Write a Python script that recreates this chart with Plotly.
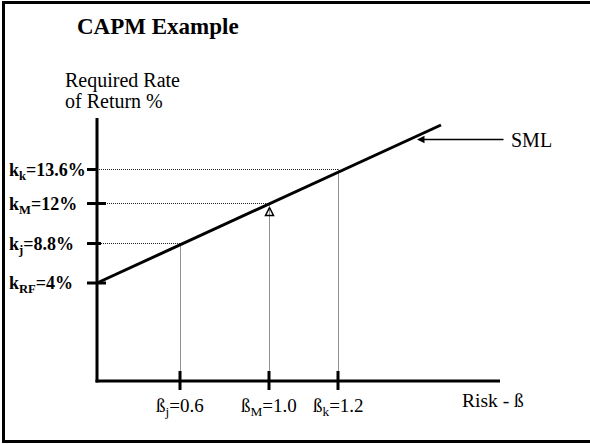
import numpy as np
import plotly.graph_objects as go

# ---------------- data ----------------
betas = [0.6, 1.0, 1.2]
beta_labels = ["ß<sub>j</sub>=0.6", "ß<sub>M</sub>=1.0", "ß<sub>k</sub>=1.2"]
required_returns = [8.8, 12.0, 13.6]
return_labels = ["k<sub>j</sub>=8.8%", "k<sub>M</sub>=12%", "k<sub>k</sub>=13.6%"]
risk_free_rate = 4.0
rf_label = "k<sub>RF</sub>=4%"
market_beta = 1.0
market_return = 12.0
sml_betas = [0.0, 1.5]
sml_returns = [4.0, 16.0]

# ------------- schematic (not-to-scale) display scale -------------
W, H = 590, 444
X_ANCHOR_VAL = [0.0, 0.6, 1.0, 1.2, 1.5]
X_ANCHOR_PX = [97, 180, 269, 338, 441]
Y_ANCHOR_VAL = [4.0, 8.8, 12.0, 13.6, 16.0]
Y_ANCHOR_PX = [283, 243.5, 203.5, 169.5, 125]
X_AXIS_Y = 381
Y_AXIS_X = 97
Y_AXIS_TOP = 118
X_AXIS_RIGHT = 500


def sx(v):
    return np.interp(v, X_ANCHOR_VAL, X_ANCHOR_PX)


def sy(v):
    return np.interp(v, Y_ANCHOR_VAL, Y_ANCHOR_PX)


FONT = "Liberation Serif, Times New Roman, serif"
BLACK = "#000000"
DOT = dict(color="#222222", width=1, dash="1px,1px")

fig = go.Figure()
shapes = []
annotations = []

# frame
shapes.append(dict(type="rect", x0=3.5, y0=2.5, x1=W + 20, y1=441.5,
                   line=dict(color=BLACK, width=3)))

# axes
shapes.append(dict(type="line", x0=Y_AXIS_X, y0=Y_AXIS_TOP, x1=Y_AXIS_X, y1=X_AXIS_Y + 1.5,
                   line=dict(color=BLACK, width=3)))
shapes.append(dict(type="line", x0=Y_AXIS_X - 1.5, y0=X_AXIS_Y, x1=X_AXIS_RIGHT, y1=X_AXIS_Y,
                   line=dict(color=BLACK, width=3)))

# dotted guide lines (offset by half a pixel for crisp 1px dots)
for b, k in zip(betas, required_returns):
    fig.add_trace(go.Scatter(x=[sx(0), sx(b)], y=[sy(k), sy(k)], mode="lines",
                             line=DOT, hoverinfo="skip", showlegend=False))
    fig.add_trace(go.Scatter(x=[sx(b) + 0.5, sx(b) + 0.5], y=[sy(k), X_AXIS_Y], mode="lines",
                             line=DOT, hoverinfo="skip", showlegend=False))

# SML
fig.add_trace(go.Scatter(x=sx(np.array(sml_betas)), y=sy(np.array(sml_returns)), mode="lines",
                         line=dict(color=BLACK, width=3), hoverinfo="skip", showlegend=False))

# market point marker
fig.add_trace(go.Scatter(x=[sx(market_beta) + 0.5], y=[sy(market_return) + 4], mode="markers",
                         marker=dict(symbol="arrow-up-open", size=8, color=BLACK,
                                     line=dict(color=BLACK, width=1.5)),
                         hoverinfo="skip", showlegend=False))

# x ticks + labels
for b, lab in zip(betas, beta_labels):
    shapes.append(dict(type="line", x0=sx(b), y0=X_AXIS_Y - 10, x1=sx(b), y1=X_AXIS_Y + 9,
                       line=dict(color=BLACK, width=3)))
    annotations.append(dict(x=sx(b), y=407, text=lab, showarrow=False, xanchor="center",
                            yanchor="middle", font=dict(family=FONT, size=19, color=BLACK)))

# y ticks + labels
y_vals = [risk_free_rate] + required_returns
y_labs = [rf_label] + return_labels
tick_right = [106, 101, 106, 98]
for k, lab, tr in zip(y_vals, y_labs, tick_right):
    shapes.append(dict(type="line", x0=87, y0=sy(k), x1=tr, y1=sy(k),
                       line=dict(color=BLACK, width=3)))
    annotations.append(dict(x=7, y=sy(k) + 1.5, text="<b>" + lab + "</b>", showarrow=False,
                            xanchor="left", yanchor="middle",
                            font=dict(family=FONT, size=18, color=BLACK)))

# texts
annotations.append(dict(x=75, y=26, text="<b>CAPM Example</b>", showarrow=False,
                        xanchor="left", yanchor="middle",
                        font=dict(family=FONT, size=23, color=BLACK)))
annotations.append(dict(x=63, y=80, text="Required Rate", showarrow=False,
                        xanchor="left", yanchor="middle",
                        font=dict(family=FONT, size=20, color=BLACK)))
annotations.append(dict(x=63, y=101, text="of Return %", showarrow=False,
                        xanchor="left", yanchor="middle",
                        font=dict(family=FONT, size=20, color=BLACK)))
annotations.append(dict(x=460, y=400, text="Risk - ß", showarrow=False,
                        xanchor="left", yanchor="middle",
                        font=dict(family=FONT, size=19.5, color=BLACK)))
annotations.append(dict(x=509, y=140, text="SML", showarrow=False,
                        xanchor="left", yanchor="middle",
                        font=dict(family=FONT, size=20, color=BLACK)))
# SML pointer arrow
annotations.append(dict(x=417, y=139.5, ax=505, ay=139.5, axref="x", ayref="y", xref="x", yref="y",
                        text="", showarrow=True, arrowhead=2, arrowsize=1, arrowwidth=1.5,
                        arrowcolor=BLACK))

fig.update_layout(
    width=W, height=H, autosize=False,
    margin=dict(l=0, r=0, t=0, b=0, pad=0),
    paper_bgcolor="white", plot_bgcolor="white",
    xaxis=dict(range=[0, W], visible=False, fixedrange=True),
    yaxis=dict(range=[H, 0], visible=False, fixedrange=True),
    shapes=shapes, annotations=annotations,
    showlegend=False,
)

fig.write_html("out.html")
